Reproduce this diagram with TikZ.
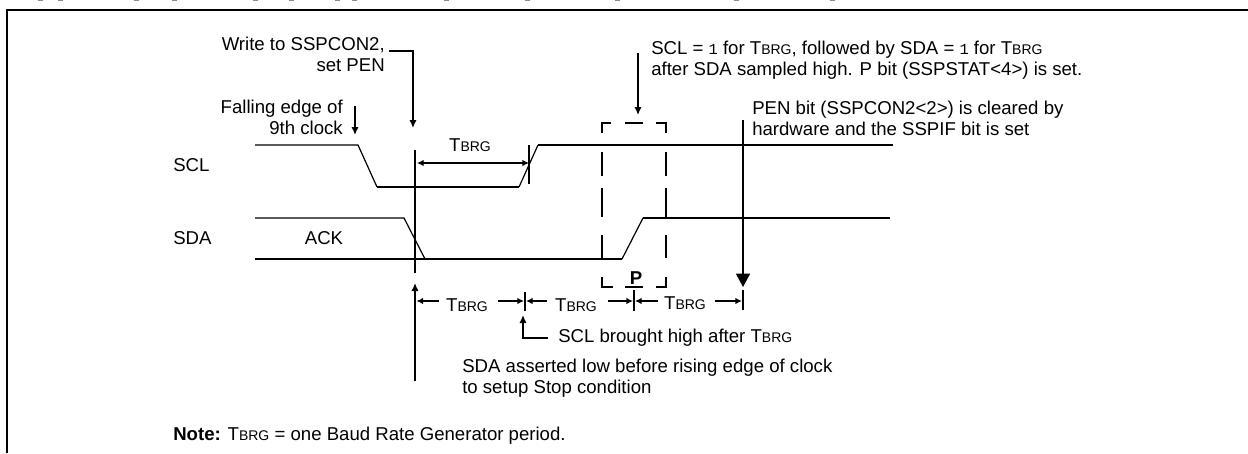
\documentclass[tikz,border=0pt]{standalone}
\usepackage{fontspec}
\setmainfont{Liberation Sans}
\newfontfamily\cour{Liberation Mono}
\usetikzlibrary{arrows.meta}
\newcommand{\tbrg}{T{\fontsize{10.5pt}{15.75pt}\selectfont BRG}}
\newcommand{\monoone}{{\cour\fontsize{11.5pt}{15.75pt}\selectfont 1}}
\tikzset{
  x=0.75pt,y=-0.75pt,
  sig/.style={line width=1.3pt,line join=miter},
  edge line/.style={line width=0.9pt},
  mark line/.style={line width=1.2pt},
  arr/.style={line width=1.1pt,-{Latex[length=6pt,width=5.5pt]}},
  dimarr/.style={line width=1.1pt,{Latex[length=5pt,width=5pt]}-},
  dimarrr/.style={line width=1.1pt,-{Latex[length=5pt,width=5pt]}},
  dash seg/.style={line width=1.2pt},
  lab/.style={inner sep=0pt,font=\fontsize{13.95pt}{15.75pt}\selectfont,align=left},
  labr/.style={lab,align=right},
  crumb/.style={fill=black!45,draw=none}
}
\begin{document}
\begin{tikzpicture}
\useasboundingbox (0,0) rectangle (1248,453);
\fill[white] (0,0) rectangle (1248,453);
% clipped remains of the line above the frame
\foreach \x in {40,60,136,174,255,291,337,354,446,527,617,736,832} {
  \fill[crumb] (\x-2.5,0) rectangle (\x+2.5,1.5);
}
% frame
\coordinate (fbl) at (7,453);
\coordinate (ftl) at (7,10);
\coordinate (ftr) at (1248,10);
\draw[line width=1.2pt] (fbl) -- (ftl);
\draw[line width=1.6pt] (6,10) -- (ftr);
% signals
\draw[edge line] (255,145) -- (358,145) -- (377,187);
\draw[sig] (377,187) -- (519,187);
\draw[edge line] (519,187) -- (538,145);
\draw[sig] (538,145) -- (893,145);
\draw[edge line] (255,218) -- (404,218) -- (425,259);
\draw[sig] (255,259) -- (622,259);
\draw[edge line] (622,259) -- (643,218);
\draw[sig] (643,218) -- (890,218);
% labels
\node[lab,anchor=west] (scl) at (173,165) {SCL};
\node[lab,anchor=west] (sda) at (173,238) {SDA};
\node[lab] (ack) at (324,238) {ACK};
\node[labr,anchor=east] (write) at (385,54.5) {Write to SSPCON2,\\set PEN};
\node[labr,anchor=east] (fall) at (343,117) {Falling edge of\\9th clock};
\node[lab,anchor=west] (sclone) at (651,60.5) {SCL = \monoone{} for \tbrg, followed by SDA = \monoone{} for \tbrg\\after SDA sampled high. P bit (SSPSTAT<4>) is set.};
\node[lab,anchor=west] (pen) at (752,118) {PEN bit (SSPCON2<2>) is cleared by\\hardware and the SSPIF bit is set};
\node[lab] (t0) at (470,145) {\tbrg};
\node[lab] (t1) at (467,305) {\tbrg};
\node[lab] (t2) at (576,305) {\tbrg};
\node[lab] (t3) at (685,303) {\tbrg};
\node[lab,font=\fontsize{13.95pt}{15.75pt}\selectfont\bfseries] (p) at (636,278) {P};
\node[lab,anchor=west] (high) at (558,338) {SCL brought high after \tbrg};
\node[lab,anchor=west] (asserted) at (462,378.5) {SDA asserted low before rising edge of clock\\to setup Stop condition};
\node[lab,anchor=west] (note) at (173,436) {\textbf{Note:} \tbrg{} = one Baud Rate Generator period.};
% vertical marker at PEN write
\coordinate (m0) at (415,150); \coordinate (m1) at (415,273);
\draw[mark line] (m0) -- (m1);
% arrows
\coordinate (w0) at (389,51); \coordinate (w1) at (413,51); \coordinate (w2) at (413,128);
\draw[arr] (w0) -- (w1) -- (w2);
\coordinate (f0) at (355,106); \coordinate (f1) at (355,135);
\draw[arr] (f0) -- (f1);
\coordinate (s0) at (638,53); \coordinate (s1) at (638,115);
\draw[arr] (s0) -- (s1);
\coordinate (u0) at (415,381); \coordinate (u1) at (415,283);
\draw[arr] (u0) -- (u1);
\coordinate (h0) at (548,338); \coordinate (h1) at (523,338); \coordinate (h2) at (523,315);
\draw[arr] (h0) -- (h1) -- (h2);
% TBRG top
\coordinate (d0) at (417,163); \coordinate (d1) at (529,163);
\draw[line width=1.1pt,{Latex[length=5pt,width=5pt]}-{Latex[length=5pt,width=5pt]}] (d0) -- (d1);
\coordinate (k0) at (529,145); \coordinate (k1) at (529,184);
\draw[mark line] (k0) -- (k1);
% dashed box
\draw[dash seg] (611,123) -- (602,123) -- (602,133);
\draw[dash seg] (625,123) -- (643,123);
\draw[dash seg] (656,123) -- (666,123) -- (666,133);
\foreach \a/\b in {152/176,188/217,235/258} {
  \draw[dash seg] (602,\a) -- (602,\b);
  \draw[dash seg] (666,\a) -- (666,\b);
}
\draw[dash seg] (602,277) -- (602,287) -- (613,287);
\draw[dash seg] (625,287) -- (643,287);
\draw[dash seg] (656,287) -- (666,287) -- (666,277);
% PEN arrow
\coordinate (n0) at (743,120); \coordinate (n1) at (743,287);
\draw[mark line,-{Triangle[length=10pt,width=10.5pt]}] (n0) -- (n1);
% ticks
\coordinate (t10) at (525,292); \coordinate (t11) at (525,311);
\draw[mark line] (t10) -- (t11);
\coordinate (t20) at (634,290); \coordinate (t21) at (634,311);
\draw[mark line] (t20) -- (t21);
\coordinate (t30) at (743,290); \coordinate (t31) at (743,310);
\draw[mark line] (t30) -- (t31);
% dimension row
\coordinate (a0) at (416.5,301); \coordinate (a1) at (439,301);
\draw[dimarr] (a0) -- (a1);
\coordinate (a2) at (498,301); \coordinate (a3) at (524,301);
\draw[dimarrr] (a2) -- (a3);
\coordinate (b0) at (526,301); \coordinate (b1) at (547,301);
\draw[dimarr] (b0) -- (b1);
\coordinate (b2) at (608,301); \coordinate (b3) at (633,301);
\draw[dimarrr] (b2) -- (b3);
\coordinate (c0) at (635,301); \coordinate (c1) at (658,301);
\draw[dimarr] (c0) -- (c1);
\coordinate (c2) at (715,301); \coordinate (c3) at (742,301);
\draw[dimarrr] (c2) -- (c3);
\end{tikzpicture}
\end{document}
